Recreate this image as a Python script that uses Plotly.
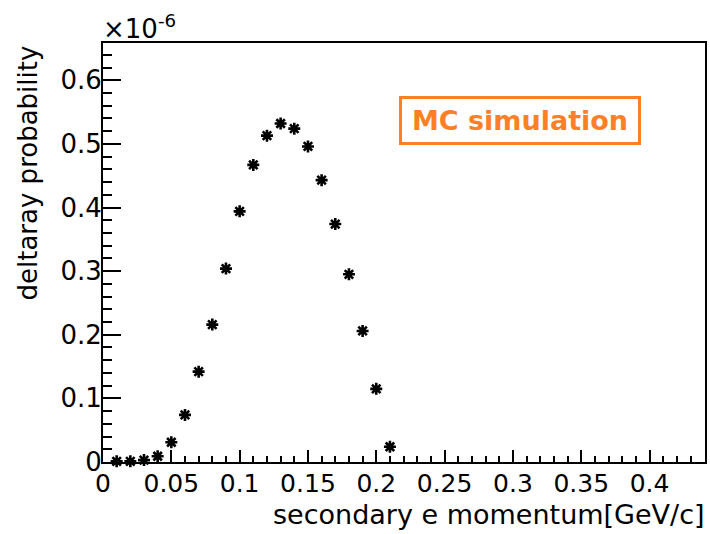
import plotly.graph_objects as go

# secondary electron momentum [GeV/c]
momentum = [0.01, 0.02, 0.03, 0.04, 0.05, 0.06, 0.07, 0.08, 0.09, 0.10, 0.11,
            0.12, 0.13, 0.14, 0.15, 0.16, 0.17, 0.18, 0.19, 0.20, 0.21]
# deltaray probability in units of 1e-6
prob_e6 = [0.001, 0.001, 0.003, 0.009, 0.031, 0.074, 0.142, 0.216, 0.304, 0.394, 0.467,
           0.513, 0.532, 0.524, 0.496, 0.443, 0.374, 0.295, 0.206, 0.115, 0.024]

x_ticks = [0, 0.05, 0.1, 0.15, 0.2, 0.25, 0.3, 0.35, 0.4]
x_ticktext = ["0", "0.05", "0.1", "0.15", "0.2", "0.25", "0.3", "0.35", "0.4"]
y_ticks = [0, 0.1, 0.2, 0.3, 0.4, 0.5, 0.6]
y_ticktext = ["0", "0.1", "0.2", "0.3", "0.4", "0.5", "0.6"]

FONT = "DejaVu Sans, Liberation Sans, Arial, sans-serif"
W, H = 710, 534
ML, MR, MT, MB = 103, 5, 43, 72

fig = go.Figure()
fig.add_trace(go.Scatter(
    x=momentum, y=prob_e6, mode="markers",
    marker=dict(symbol="asterisk-open", size=10, color="black",
                line=dict(color="black", width=2.6)),
    cliponaxis=False, showlegend=False,
))

fig.update_layout(
    width=W, height=H,
    margin=dict(l=ML, r=MR, t=MT, b=MB, pad=0, autoexpand=False),
    paper_bgcolor="white", plot_bgcolor="white",
    font=dict(family=FONT, size=26, color="black"),
    xaxis=dict(
        range=[0, 0.4406], tickvals=x_ticks, ticktext=x_ticktext,
        ticks="inside", ticklen=12, tickwidth=2, tickcolor="black",
        minor=dict(dtick=0.01, ticks="inside", ticklen=6, tickwidth=2, tickcolor="black", showgrid=False),
        showline=True, linecolor="black", linewidth=2, mirror=True,
        showgrid=False, zeroline=False, automargin=False,
        tickfont=dict(family=FONT, size=25), ticklabelstandoff=-2,
    ),
    yaxis=dict(
        range=[0, 0.6586], tickvals=y_ticks, ticktext=y_ticktext,
        ticks="inside", ticklen=18, tickwidth=2, tickcolor="black",
        minor=dict(dtick=0.02, ticks="inside", ticklen=9, tickwidth=2, tickcolor="black", showgrid=False),
        showline=True, linecolor="black", linewidth=2, mirror=True,
        showgrid=False, zeroline=False, automargin=False,
        tickfont=dict(family=FONT, size=26), ticklabelstandoff=-6,
    ),
)

annotations = [
    # x-axis title, right aligned
    dict(text="secondary e momentum[GeV/c]", xref="paper", yref="paper",
         x=1.0, y=0, xanchor="right", yanchor="top", xshift=2, yshift=-35,
         showarrow=False, font=dict(family=FONT, size=27, color="black")),
    # y-axis title, rotated, top aligned
    dict(text="deltaray probability", xref="paper", yref="paper",
         x=0, y=1.0, xanchor="center", yanchor="top", xshift=-76, yshift=-1,
         textangle=-90, showarrow=False, font=dict(family=FONT, size=26, color="black")),
    # exponent
    dict(text="×10<sup>-6</sup>", xref="paper", yref="paper",
         x=0, y=1.0, xanchor="left", yanchor="bottom", xshift=-2, yshift=-3,
         showarrow=False, font=dict(family=FONT, size=26, color="black")),
    # MC simulation label
    dict(text="<b>MC simulation</b>", xref="paper", yref="paper",
         x=0.6935, y=0.816, xanchor="center", yanchor="middle",
         width=226, height=33, align="center", valign="middle",
         showarrow=False, font=dict(family=FONT, size=27, color="#FF7F27"),
         bordercolor="#FF7F27", borderwidth=3, borderpad=5, bgcolor="white"),
]
fig.update_layout(annotations=annotations)

fig.write_html("out.html", config={"displayModeBar": False},
               post_script="document.body.style.margin='0';")
